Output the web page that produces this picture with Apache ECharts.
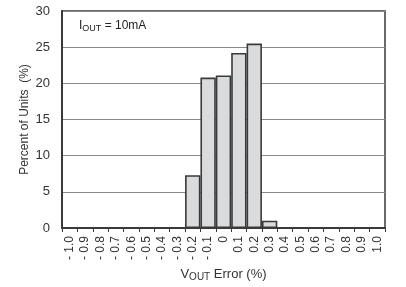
<!DOCTYPE html>
<html><head><meta charset="utf-8">
<script src="https://cdn.jsdelivr.net/npm/echarts@6/dist/echarts.min.js"></script>
<style>html,body{margin:0;padding:0;background:#fff}#c{width:406px;height:287px}</style>
</head><body><div id="c"></div>
<script>
var categories = ['- 1.0','- 0.9','- 0.8','- 0.7','- 0.6','- 0.5','- 0.4','- 0.3','- 0.2','- 0.1','0','0.1','0.2','0.3','0.4','0.5','0.6','0.7','0.8','0.9','1.0'];
var percentValues = [0,0,0,0,0,0,0,0,7.3,20.8,21.1,24.2,25.5,1.0,0,0,0,0,0,0,0];
var yTicks = [0,5,10,15,20,25,30];
var FONT = '"Liberation Sans", Arial, sans-serif';
var chart = echarts.init(document.getElementById('c'), null, {renderer:'canvas'});
chart.setOption({
  animation:false,
  backgroundColor:'#fff',
  grid:{left:62,top:11,width:323,height:218,show:true,borderColor:'#3a3a3a',borderWidth:1.5,backgroundColor:'transparent'},
  xAxis:{type:'category',data:categories,
    axisLine:{lineStyle:{color:'#3a3a3a',width:2}},
    axisTick:{show:true,alignWithLabel:false,length:4,lineStyle:{color:'#3a3a3a',width:1}},
    axisLabel:{rotate:90,interval:0,margin:8,fontSize:12,color:'#333',fontFamily:FONT},
    name:'{v|V}{s|OUT}{v| Error (%)}',nameLocation:'middle',nameGap:38,nameMoveOverlap:false,
    nameTextStyle:{rich:{v:{fontSize:13,color:'#333',fontFamily:FONT},s:{fontSize:10,color:'#333',fontFamily:FONT,verticalAlign:'bottom',padding:[6,0,0,0]}}}
  },
  yAxis:{type:'value',min:yTicks[0],max:yTicks[yTicks.length-1],interval:5,
    axisLine:{show:true,lineStyle:{color:'#3a3a3a',width:2}},
    axisTick:{show:false},
    splitLine:{lineStyle:{color:'#8a8a8a',width:1.2}},
    axisLabel:{margin:12,fontSize:13,color:'#333',fontFamily:FONT},
    name:'Percent of Units  (%)',nameLocation:'middle',nameGap:31,nameMoveOverlap:false,
    nameTextStyle:{fontSize:12,color:'#333',fontFamily:FONT}
  },
  graphic:[{type:'text',left:79,top:20,style:{rich:{a:{fontSize:12,fill:'#222',fontFamily:FONT},s:{fontSize:9,fill:'#222',fontFamily:FONT,padding:[5,0,0,0]}},text:'{a|I}{s|OUT}{a| = 10mA}'}}],
  series:[{type:'bar',data:percentValues,barWidth:'100%',barCategoryGap:'0%',
    itemStyle:{color:'#dadbdd',borderColor:'#3a3a3a',borderWidth:1.6}}]
});
</script></body></html>
